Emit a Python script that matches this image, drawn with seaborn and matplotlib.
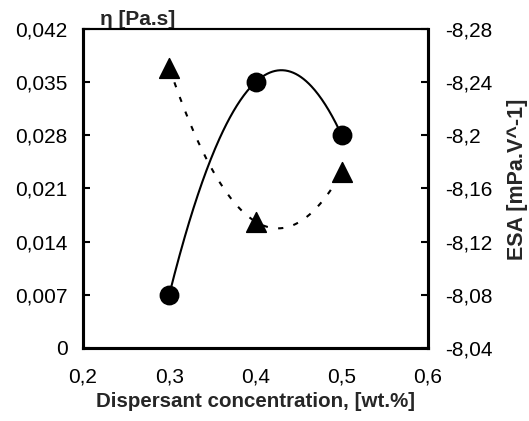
import numpy as np
import matplotlib
matplotlib.use("Agg")
import matplotlib.pyplot as plt
import seaborn as sns
from matplotlib.ticker import FuncFormatter

# data
concentration = [0.3, 0.4, 0.5]
viscosity = [0.007, 0.035, 0.028]          # eta [Pa.s], left axis
esa = [-8.251, -8.135, -8.172]             # ESA [mPa.V^-1], right axis (inverted)

x_ticks = [0.2, 0.3, 0.4, 0.5, 0.6]
eta_ticks = [0, 0.007, 0.014, 0.021, 0.028, 0.035, 0.042]
esa_ticks = [-8.28, -8.24, -8.2, -8.16, -8.12, -8.08, -8.04]

sns.set_theme(style="white")
plt.rcParams['font.family'] = ['Liberation Sans', 'DejaVu Sans']


def comma_fmt(v, pos=None):
    return f"{v:g}".replace('.', ',')


def smooth(x, y):
    # smoothed connector through the points (like Excel's smoothed line)
    coef = np.polyfit(x, y, 2)
    xs = np.linspace(min(x), max(x), 200)
    return xs, np.polyval(coef, xs)


fig, ax = plt.subplots(figsize=(5.29, 4.21), dpi=100)
fig.subplots_adjust(left=0.157, right=0.809, top=0.931, bottom=0.174)
ax2 = ax.twinx()

xs, ys = smooth(concentration, viscosity)
sns.lineplot(x=xs, y=ys, ax=ax, color='black', linewidth=1.5, sort=False)
sns.scatterplot(x=concentration, y=viscosity, ax=ax, color='black',
                marker='o', s=175, edgecolor='black', zorder=5)

xs2, ys2 = smooth(concentration, esa)
ax2.plot(xs2, ys2, color='black', linewidth=1.5, dashes=(2.5, 5))
sns.scatterplot(x=concentration, y=esa, ax=ax2, color='black',
                marker='^', s=200, edgecolor='black', zorder=5)

ax.set_xlim(0.2, 0.6)
ax.set_ylim(0, 0.042)
ax2.set_ylim(-8.04, -8.28)
ax.set_xticks(x_ticks)
ax.set_yticks(eta_ticks)
ax2.set_yticks(esa_ticks)
for a in (ax, ax2):
    a.xaxis.set_major_formatter(FuncFormatter(comma_fmt))
    a.yaxis.set_major_formatter(FuncFormatter(comma_fmt))
    a.grid(False)

ax.tick_params(axis='y', direction='in', length=5, width=1.5,
               labelsize=15, colors='black', pad=11)
ax.tick_params(axis='x', direction='in', length=5, width=1.5,
               labelsize=15, colors='black', pad=14)
ax2.tick_params(axis='y', direction='in', length=5, width=1.5,
                labelsize=15, colors='black', pad=12)

for a in (ax, ax2):
    for side, sp in a.spines.items():
        sp.set_color('black')
        sp.set_linewidth(2.2 if side != 'top' else 1.5)

ax.set_xlabel("Dispersant concentration, [wt.%]", fontsize=14.8,
              fontweight='bold', labelpad=4)
ax.set_ylabel("")
ax2.set_ylabel("ESA [mPa.V^-1]", fontsize=15.5, fontweight='bold')
ax2.yaxis.set_label_coords(1.229, 0.53)
ax.text(0.05, 1.0, "η [Pa.s]", transform=ax.transAxes, fontsize=15,
        fontweight='bold', ha='left', va='bottom',
        family=['Liberation Sans', 'DejaVu Sans'])

fig.savefig("out.png", dpi=100)
